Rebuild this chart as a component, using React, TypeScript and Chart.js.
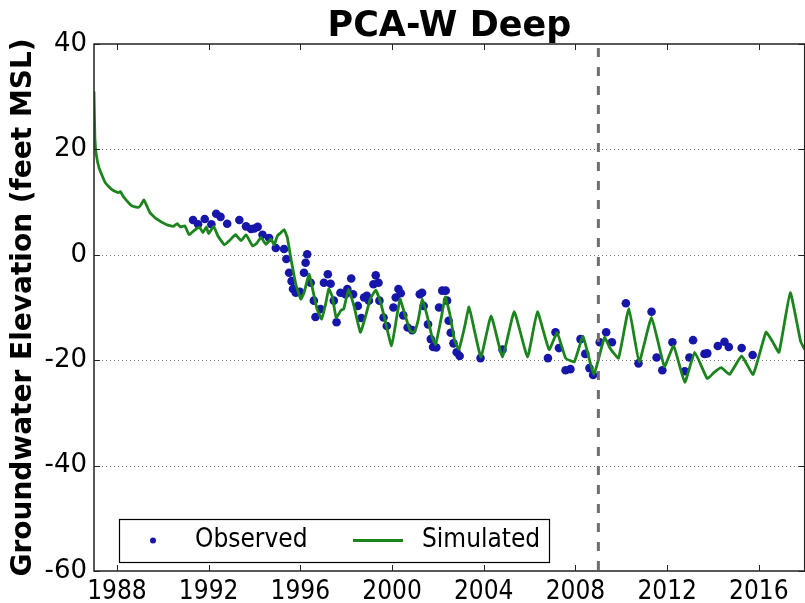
import React, { useEffect, useRef } from "react";
import { Chart, registerables } from "chart.js";

Chart.register(...registerables);

// Simulated groundwater elevation (decimal year, feet MSL)
const simYears = [
  1987.0, 1987.04, 1987.1, 1987.22, 1987.49, 1987.8, 1988.07, 1988.15, 1988.29, 1988.65,
  1988.94, 1989.05, 1989.18, 1989.44, 1989.73, 1990.17, 1990.45, 1990.63, 1990.77, 1990.96,
  1991.15, 1991.39, 1991.61, 1991.75, 1991.9, 1992.0, 1992.22, 1992.4, 1992.69, 1992.91,
  1993.17, 1993.42, 1993.63, 1993.92, 1994.1, 1994.28, 1994.5, 1994.72, 1994.86, 1995.0,
  1995.15, 1995.29, 1995.43, 1995.58, 1995.8, 1996.02, 1996.16, 1996.38, 1996.52, 1996.73,
  1996.93, 1997.1, 1997.24, 1997.4, 1997.56, 1997.78, 1997.89, 1998.11, 1998.35, 1998.62,
  1998.83, 1999.05, 1999.29, 1999.5, 1999.7, 1999.98, 2000.2, 2000.35, 2000.55, 2000.8,
  2000.97, 2001.15, 2001.32, 2001.55, 2001.75, 2001.9, 2002.15, 2002.32, 2002.52, 2002.73,
  2002.92, 2003.16, 2003.36, 2003.6, 2003.88, 2004.32, 2004.82, 2005.33, 2005.91, 2006.34,
  2006.85, 2007.2, 2007.57, 2007.95, 2008.33, 2008.8, 2009.27, 2009.52, 2009.88, 2010.33,
  2010.78, 2011.32, 2011.88, 2012.28, 2012.77, 2013.2, 2013.75, 2014.05, 2014.36, 2014.72,
  2015.25, 2015.75, 2016.31, 2016.6, 2016.88, 2017.37, 2017.82, 2018.0,
];
const simLevels = [
  31.0, 22.0, 19.0, 16.5, 13.7, 12.3, 11.8, 12.0, 11.0, 9.3,
  9.0, 9.5, 10.4, 8.0, 6.8, 5.7, 5.4, 5.9, 5.3, 5.5,
  3.8, 4.7, 5.2, 4.2, 5.3, 4.0, 5.4, 3.6, 1.9, 2.7,
  3.8, 2.7, 3.8, 1.7, 2.2, 3.3, 2.0, 3.0, 1.9, 3.6,
  4.2, 4.8, 3.3, -0.5, -5.5, -8.4, -7.2, -3.7, -6.2, -10.3,
  -12.2, -9.4, -6.5, -8.0, -11.9, -10.5, -10.3, -6.5, -9.9, -14.7,
  -11.9, -8.4, -6.7, -9.0, -12.5, -17.3, -11.9, -8.4, -11.2, -14.5,
  -14.7, -12.2, -8.3, -11.9, -15.7, -17.0, -11.9, -8.0, -11.2, -16.3,
  -17.9, -13.8, -9.9, -14.5, -19.4, -11.6, -19.4, -10.8, -19.4, -10.8,
  -18.0, -14.8, -19.6, -20.3, -15.5, -22.7, -15.7, -17.8, -19.6, -10.2,
  -20.3, -11.9, -21.2, -17.3, -24.2, -18.5, -23.5, -22.3, -21.4, -22.7,
  -19.2, -22.7, -14.7, -16.5, -18.5, -7.2, -16.4, -18.0,
];

// Observed groundwater elevation (decimal year, feet MSL)
const obsYears = [
  1991.32, 1991.54, 1991.83, 1992.12, 1992.33, 1992.52, 1992.81, 1993.34, 1993.63, 1993.85,
  1993.99, 1994.14, 1994.35, 1994.64, 1994.93, 1995.29, 1995.39, 1995.51, 1995.62, 1995.68,
  1995.8, 1995.98, 1996.16, 1996.23, 1996.3, 1996.45, 1996.59, 1996.66, 1996.88, 1997.03,
  1997.2, 1997.32, 1997.46, 1997.58, 1997.75, 1997.97, 1998.05, 1998.22, 1998.3, 1998.51,
  1998.66, 1998.78, 1998.9, 1998.99, 1999.19, 1999.29, 1999.41, 1999.45, 1999.63, 1999.77,
  2000.06, 2000.16, 2000.28, 2000.38, 2000.49, 2000.68, 2000.88, 2001.21, 2001.31, 2001.38,
  2001.57, 2001.69, 2001.79, 2001.93, 2002.05, 2002.19, 2002.34, 2002.4, 2002.47, 2002.56,
  2002.68, 2002.82, 2002.95, 2003.86, 2004.82, 2006.8, 2007.13, 2007.28, 2007.57, 2007.78,
  2008.22, 2008.43, 2008.61, 2008.77, 2009.06, 2009.34, 2009.59, 2010.2, 2010.75, 2011.32,
  2011.54, 2011.79, 2012.23, 2012.77, 2012.97, 2013.13, 2013.63, 2013.75, 2014.21, 2014.5,
  2014.69, 2015.25, 2015.73,
];
const obsLevels = [
  6.6, 5.8, 6.8, 5.8, 7.8, 7.2, 5.9, 6.6, 5.4, 4.9,
  5.0, 5.3, 3.8, 3.2, 1.3, 1.1, -0.8, -3.4, -5.0, -6.5,
  -7.2, -7.0, -3.4, -1.5, 0.1, -5.3, -8.7, -11.8, -10.3, -5.3,
  -3.7, -5.5, -8.7, -12.8, -7.2, -7.5, -6.5, -4.5, -7.5, -9.7,
  -12.0, -8.1, -7.8, -8.7, -5.6, -3.9, -5.3, -8.7, -11.9, -13.5,
  -10.0, -8.1, -6.5, -7.3, -11.5, -13.8, -14.3, -7.5, -7.2, -9.7,
  -13.2, -16.0, -17.5, -17.6, -10.0, -6.8, -6.8, -8.7, -12.5, -14.8,
  -16.8, -18.5, -19.2, -19.6, -18.0, -19.6, -14.7, -17.7, -21.9, -21.7,
  -16.0, -18.8, -21.5, -22.8, -16.6, -14.7, -16.6, -9.2, -20.6, -10.8,
  -19.5, -21.9, -16.6, -22.1, -19.5, -16.2, -18.8, -18.7, -17.3, -16.5,
  -17.5, -17.7, -19.0,
];

const yearTicks = [1988, 1992, 1996, 2000, 2004, 2008, 2012, 2016];
const levelTicks = [-60, -40, -20, 0, 20, 40];
const yearMin = 1987;
const yearMax = 2018;
const levelMin = -60;
const levelMax = 40;
const calibrationYear = 2009;

const chartTitle = "PCA-W Deep";
const levelAxisTitle = "Groundwater Elevation (feet MSL)";
const observedName = "Observed";
const simulatedName = "Simulated";

const observedColor = "rgb(22,22,170)";
const simulatedColor = "rgb(28,132,28)";
const condensedFont = "'DejaVu Sans Condensed', 'DejaVu Sans', sans-serif";
const plainFont = "'DejaVu Sans', sans-serif";

const frameAndDecor = {
  id: "frameAndDecor",
  beforeDatasetsDraw(chart: any) {
    const { ctx, chartArea: a, scales } = chart;
    ctx.save();
    ctx.strokeStyle = "rgba(0,0,0,0.55)";
    ctx.lineWidth = 1;
    ctx.setLineDash([1, 3]);
    for (const v of levelTicks) {
      if (v <= levelMin || v >= levelMax) continue;
      const py = Math.round(scales.y.getPixelForValue(v)) + 0.5;
      ctx.beginPath();
      ctx.moveTo(a.left, py);
      ctx.lineTo(a.right, py);
      ctx.stroke();
    }
    ctx.restore();
  },
  afterDatasetsDraw(chart: any) {
    const { ctx, chartArea: a, scales } = chart;
    ctx.save();
    // calibration / validation split
    const mx = scales.x.getPixelForValue(calibrationYear);
    ctx.strokeStyle = "rgb(110,110,110)";
    ctx.lineWidth = 3;
    ctx.setLineDash([9, 10]);
    ctx.beginPath();
    ctx.moveTo(mx, a.top + 4);
    ctx.lineTo(mx, a.bottom);
    ctx.stroke();
    ctx.setLineDash([]);

    // axes frame
    ctx.strokeStyle = "#222";
    ctx.lineWidth = 1.5;
    ctx.strokeRect(a.left, a.top, a.right - a.left, a.bottom - a.top);

    // inward tick marks
    ctx.lineWidth = 1;
    const tl = 6;
    for (const v of yearTicks) {
      const px = Math.round(scales.x.getPixelForValue(v)) + 0.5;
      ctx.beginPath();
      ctx.moveTo(px, a.bottom);
      ctx.lineTo(px, a.bottom - tl);
      ctx.moveTo(px, a.top);
      ctx.lineTo(px, a.top + tl);
      ctx.stroke();
    }
    for (const v of levelTicks) {
      const py = Math.round(scales.y.getPixelForValue(v)) + 0.5;
      ctx.beginPath();
      ctx.moveTo(a.left, py);
      ctx.lineTo(a.left + tl, py);
      ctx.moveTo(a.right, py);
      ctx.lineTo(a.right - tl, py);
      ctx.stroke();
    }
    ctx.restore();
  },
  afterDraw(chart: any) {
    const { ctx, chartArea: a } = chart;
    ctx.save();
    // title
    ctx.fillStyle = "#000";
    ctx.font = `bold 35px ${plainFont}`;
    ctx.textAlign = "center";
    ctx.textBaseline = "alphabetic";
    ctx.fillText(chartTitle, (a.left + a.right) / 2, 36);

    // vertical axis title
    ctx.save();
    ctx.translate(24, (a.top + a.bottom) / 2);
    ctx.rotate(-Math.PI / 2);
    ctx.font = `bold 28px ${plainFont}`;
    ctx.textBaseline = "middle";
    ctx.fillText(levelAxisTitle, 0, 0);
    ctx.restore();

    // legend box
    const lx = 119, ly = 519, lw = 430, lh = 43;
    ctx.fillStyle = "#fff";
    ctx.fillRect(lx, ly, lw, lh);
    ctx.strokeStyle = "#000";
    ctx.lineWidth = 1.2;
    ctx.strokeRect(lx + 0.5, ly + 0.5, lw, lh);
    const cy = ly + lh / 2;
    ctx.fillStyle = observedColor;
    ctx.beginPath();
    ctx.arc(153, cy, 3, 0, Math.PI * 2);
    ctx.fill();
    ctx.strokeStyle = simulatedColor;
    ctx.lineWidth = 3;
    ctx.beginPath();
    ctx.moveTo(353, cy);
    ctx.lineTo(403, cy);
    ctx.stroke();
    ctx.fillStyle = "#000";
    ctx.font = `26px ${condensedFont}`;
    ctx.textAlign = "left";
    ctx.textBaseline = "middle";
    ctx.fillText(observedName, 195, cy);
    ctx.fillText(simulatedName, 422, cy);
    ctx.restore();
  },
};

export default function App() {
  const canvasRef = useRef<HTMLCanvasElement | null>(null);

  useEffect(() => {
    const canvas = canvasRef.current;
    if (!canvas) return;
    const simulated = simYears.map((x, i) => ({ x, y: simLevels[i] }));
    const observed = obsYears.map((x, i) => ({ x, y: obsLevels[i] }));

    const chart = new Chart(canvas, {
      type: "line",
      data: {
        datasets: [
          {
            label: simulatedName,
            data: simulated,
            borderColor: simulatedColor,
            borderWidth: 2.8,
            borderJoinStyle: "round",
            pointRadius: 0,
            fill: false,
            tension: 0.12,
            order: 0,
          },
          {
            label: observedName,
            data: observed,
            showLine: false,
            pointRadius: 4.3,
            pointBorderWidth: 0,
            pointBackgroundColor: observedColor,
            pointBorderColor: observedColor,
            order: 1,
          },
        ],
      },
      options: {
        responsive: false,
        animation: false,
        devicePixelRatio: 1,
        layout: { padding: { top: 44, left: 0, right: 0, bottom: 0 } },
        plugins: {
          legend: { display: false },
          title: { display: false },
          tooltip: { enabled: false },
        },
        scales: {
          x: {
            type: "linear",
            min: yearMin,
            max: yearMax,
            grid: { display: false, drawTicks: false },
            border: { display: false },
            afterBuildTicks: (s: any) => {
              s.ticks = yearTicks.map((v) => ({ value: v }));
            },
            afterFit: (s: any) => {
              s.height = 32;
            },
            ticks: {
              autoSkip: false,
              maxRotation: 0,
              padding: 6,
              color: "#000",
              font: { family: condensedFont, size: 26 },
              callback: (v: any) => String(v),
            },
          },
          y: {
            type: "linear",
            min: levelMin,
            max: levelMax,
            grid: { display: false, drawTicks: false },
            border: { display: false },
            afterBuildTicks: (s: any) => {
              s.ticks = levelTicks.map((v) => ({ value: v }));
            },
            afterFit: (s: any) => {
              s.width = 94;
            },
            ticks: {
              padding: 7,
              color: "#000",
              font: { family: plainFont, size: 26 },
              callback: (v: any) => String(v),
            },
          },
        },
      },
      plugins: [frameAndDecor],
    });
    return () => chart.destroy();
  }, []);

  return (
    <div
      style={{
        position: "fixed",
        left: 0,
        top: 0,
        width: 805,
        height: 603,
        overflow: "hidden",
        background: "#fff",
      }}
    >
      <canvas ref={canvasRef} width={809} height={603} style={{ display: "block" }} />
    </div>
  );
}
